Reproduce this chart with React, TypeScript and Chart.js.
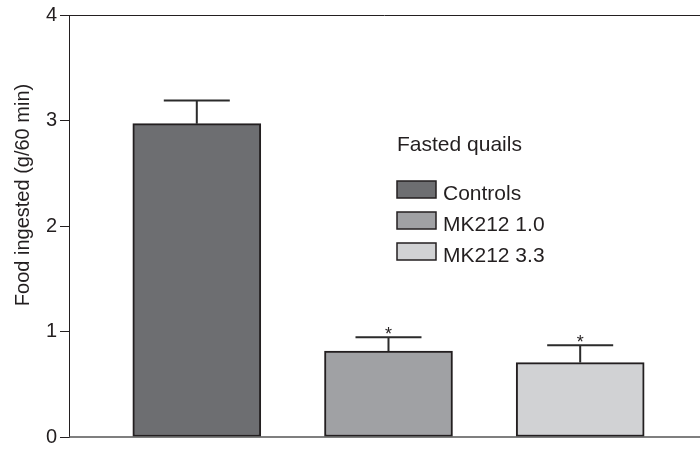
import React, { useEffect, useRef } from "react";
import { Chart, registerables } from "chart.js";

Chart.register(...registerables);

const categories = ["Controls", "MK212 1.0", "MK212 3.3"];
const means = [2.97, 0.815, 0.705];
const sem = [0.22, 0.13, 0.165];
const significance = ["", "*", "*"];
const barColors = ["#6d6e71", "#a0a1a4", "#d1d2d4"];
const legendTitle = "Fasted quails";
const yTitle = "Food ingested (g/60 min)";

const FONT = "'Liberation Sans', Arial, Helvetica, sans-serif";
const INK = "#231f20";

export default function App() {
  const ref = useRef<HTMLCanvasElement | null>(null);

  useEffect(() => {
    if (!ref.current) return;

    const overlay = {
      id: "overlay",
      afterDatasetsDraw(chart: any) {
        const ctx = chart.ctx;
        const xs = chart.scales.x;
        const ys = chart.scales.y;
        const area = chart.chartArea;
        ctx.save();
        // top frame line
        ctx.strokeStyle = INK;
        ctx.lineWidth = 1;
        const yTopLine = Math.round(ys.getPixelForValue(4)) + 0.5;
        ctx.beginPath();
        ctx.moveTo(area.left, yTopLine);
        ctx.lineTo(area.right, yTopLine);
        ctx.stroke();
        // bottom axis line
        ctx.strokeStyle = "#555555";
        ctx.lineWidth = 1.5;
        const y0 = ys.getPixelForValue(0);
        ctx.beginPath();
        ctx.moveTo(area.left, y0);
        ctx.lineTo(area.right, y0);
        ctx.stroke();
        // error bars & significance
        ctx.strokeStyle = "#2b2b2b";
        ctx.lineWidth = 2;
        means.forEach((m, i) => {
          const x = xs.getPixelForValue(i + 1);
          const yBar = ys.getPixelForValue(m);
          const yTop = ys.getPixelForValue(m + sem[i]);
          ctx.beginPath();
          ctx.moveTo(x, yBar);
          ctx.lineTo(x, yTop);
          ctx.moveTo(x - 33, yTop);
          ctx.lineTo(x + 33, yTop);
          ctx.stroke();
          if (significance[i]) {
            ctx.fillStyle = INK;
            ctx.font = `18px ${FONT}`;
            ctx.textAlign = "center";
            ctx.textBaseline = "alphabetic";
            ctx.fillText(significance[i], x, yTop + 3);
          }
        });
        // y axis title
        ctx.save();
        ctx.fillStyle = INK;
        ctx.font = `20px ${FONT}`;
        ctx.translate(29, 195);
        ctx.rotate(-Math.PI / 2);
        ctx.textAlign = "center";
        ctx.textBaseline = "alphabetic";
        ctx.fillText(yTitle, 0, 0);
        ctx.restore();
        // legend
        ctx.fillStyle = INK;
        ctx.font = `21px ${FONT}`;
        ctx.textAlign = "left";
        ctx.textBaseline = "alphabetic";
        ctx.fillText(legendTitle, 397, 151);
        categories.forEach((c, i) => {
          const top = 181 + i * 31;
          ctx.fillStyle = barColors[i];
          ctx.fillRect(397, top, 39, 17);
          ctx.strokeStyle = INK;
          ctx.lineWidth = 1.5;
          ctx.strokeRect(397, top, 39, 17);
          ctx.fillStyle = INK;
          ctx.fillText(c, 443, top + 19);
        });
        ctx.restore();
      },
    };

    const chart = new Chart(ref.current, {
      type: "bar",
      data: {
        datasets: [
          {
            data: means.map((v, i) => ({ x: i + 1, y: v })),
            backgroundColor: barColors,
            borderColor: INK,
            borderWidth: 2,
            borderSkipped: false,
            barThickness: 128,
          },
        ],
      },
      options: {
        animation: false,
        responsive: false,
        maintainAspectRatio: false,
        layout: { padding: { top: 12, bottom: 14, left: 0, right: 0 } },
        plugins: { legend: { display: false }, tooltip: { enabled: false } },
        scales: {
          x: {
            type: "linear",
            min: 1 - 128 / 192,
            max: 3 + 120 / 192,
            offset: false,
            display: false,
          },
          y: {
            min: 0,
            max: 4,
            ticks: {
              stepSize: 1,
              color: INK,
              padding: 3,
              font: { size: 20, family: FONT },
            },
            grid: {
              drawOnChartArea: false,
              tickLength: 9,
              color: INK,
              lineWidth: 1,
            },
            border: { color: INK, width: 1 },
            title: { display: false },
            afterFit: (s: any) => {
              s.width = 69;
            },
          },
        },
      },
      plugins: [overlay],
    } as any);

    return () => chart.destroy();
  }, []);

  return (
    <div style={{ position: "fixed", left: 0, top: 0, width: 700, height: 452, background: "#fff" }}>
      <canvas ref={ref} width={700} height={452} style={{ display: "block", width: 700, height: 452 }} />
    </div>
  );
}
